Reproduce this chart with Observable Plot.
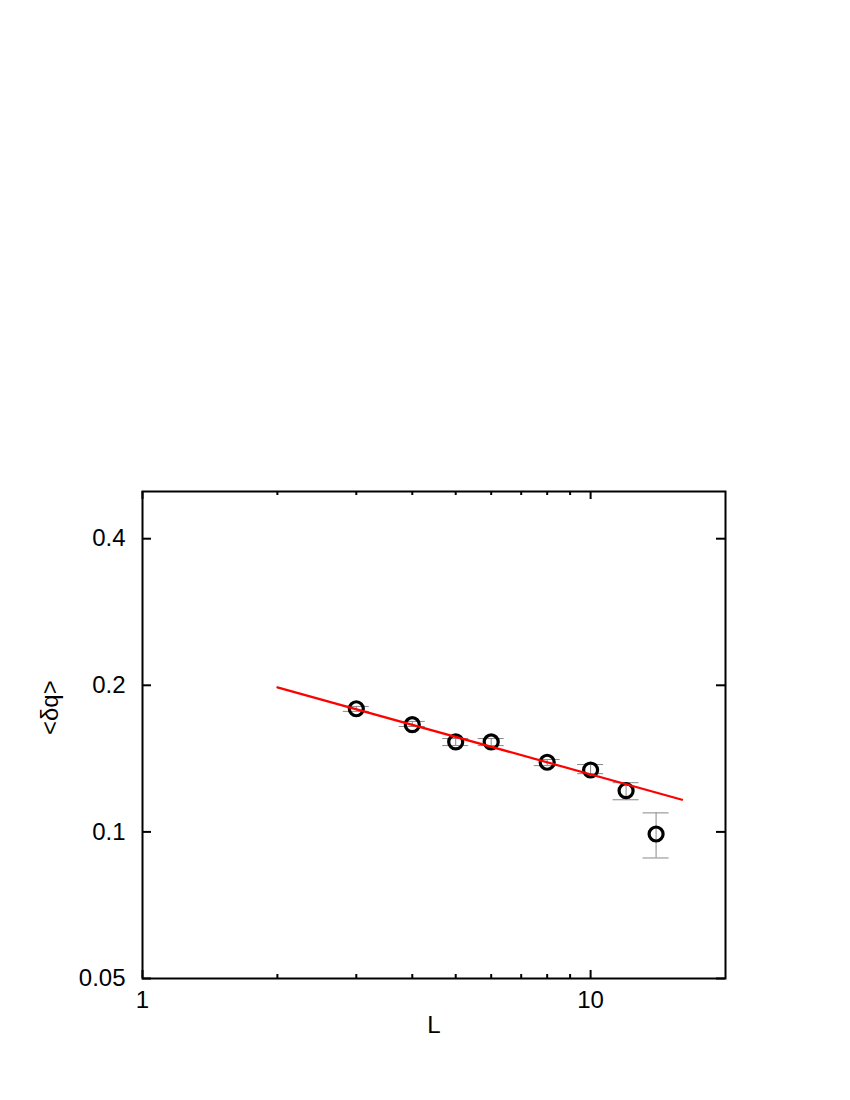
<!DOCTYPE html>
<html>
<head>
<meta charset="utf-8">
<script src="https://cdn.jsdelivr.net/npm/d3@7"></script>
<script src="https://cdn.jsdelivr.net/npm/@observablehq/plot@0.6"></script>
<style>
  html, body { margin: 0; padding: 0; background: #fff; }
</style>
</head>
<body>
<div id="chart"></div>
<script>
// Data points: system size L and mean <δq> with error bounds
const L = [3, 4, 5, 6, 8, 10, 12, 14];
const dq = [0.179, 0.166, 0.153, 0.153, 0.139, 0.134, 0.1215, 0.099];
const dqLow = [0.1768, 0.1646, 0.1504, 0.1504, 0.1368, 0.1317, 0.1164, 0.0884];
const dqHigh = [0.181, 0.1686, 0.1555, 0.1555, 0.1408, 0.1375, 0.1262, 0.1094];

// Fit line endpoints (power law)
const fitL = [2, 16];
const fitQ = [0.198, 0.1164];

// Axis ticks
const xMajorTicks = [1, 10];
const xMinorTicks = [2, 3, 4, 5, 6, 7, 8, 9];
const yTicks = [0.05, 0.1, 0.2, 0.4];
const xDomain = [1, 20];
const yDomain = [0.05, 0.5];

const points = L.map((l, i) => ({L: l, q: dq[i], lo: dqLow[i], hi: dqHigh[i]}));
const fit = fitL.map((l, i) => ({L: l, q: fitQ[i]}));

const font = "'Liberation Sans', Arial, Helvetica, sans-serif";
const fs = 24;

const chart = Plot.plot({
  width: 850,
  height: 1100,
  marginLeft: 142,
  marginRight: 125,
  marginTop: 491,
  marginBottom: 122,
  style: {fontFamily: font, fontSize: fs + "px", color: "#000", background: "#fff"},
  x: {type: "log", domain: xDomain},
  y: {type: "log", domain: yDomain},
  marks: [
    // tick labels
    Plot.axisX({ticks: xMajorTicks, tickSize: 0, tickPadding: 12, tickFormat: d => String(d), label: null, fontSize: fs}),
    Plot.axisY({ticks: yTicks, tickSize: 0, tickPadding: 17, tickFormat: d => String(d), label: null, fontSize: fs}),
    // inward ticks: bottom and top, major
    Plot.ruleX(xMajorTicks, {x: d => d, y1: yDomain[0], y2: yDomain[0], insetBottom: 8, stroke: "#000", strokeWidth: 2}),
    Plot.ruleX(xMajorTicks, {x: d => d, y1: yDomain[1], y2: yDomain[1], insetTop: 8, stroke: "#000", strokeWidth: 2}),
    // minor
    Plot.ruleX(xMinorTicks, {x: d => d, y1: yDomain[0], y2: yDomain[0], insetBottom: 4, stroke: "#000", strokeWidth: 2}),
    Plot.ruleX(xMinorTicks, {x: d => d, y1: yDomain[1], y2: yDomain[1], insetTop: 4, stroke: "#000", strokeWidth: 2}),
    // y ticks left and right
    Plot.ruleY(yTicks, {y: d => d, x1: xDomain[0], x2: xDomain[0], insetRight: -9, stroke: "#000", strokeWidth: 2}),
    Plot.ruleY(yTicks, {y: d => d, x1: xDomain[1], x2: xDomain[1], insetLeft: -9, stroke: "#000", strokeWidth: 2}),
    // error bars
    Plot.ruleX(points, {x: "L", y1: "lo", y2: "hi", stroke: "#888", strokeWidth: 1}),
    Plot.ruleY(points, {y: "lo", x1: "L", x2: "L", insetLeft: -13, insetRight: -13, stroke: "#888", strokeWidth: 1}),
    Plot.ruleY(points, {y: "hi", x1: "L", x2: "L", insetLeft: -13, insetRight: -13, stroke: "#888", strokeWidth: 1}),
    // data points
    Plot.dot(points, {x: "L", y: "q", r: 7, stroke: "#000", strokeWidth: 3.2, fill: "none"}),
    // fit line
    Plot.line(fit, {x: "L", y: "q", stroke: "#ff0000", strokeWidth: 2.2}),
    // frame
    Plot.frame({stroke: "#000", strokeWidth: 2}),
    // axis titles
    Plot.text(["L"], {frameAnchor: "bottom", dy: 54, text: d => d, fontSize: fs}),
    Plot.text(["<δq>"], {frameAnchor: "left", dx: -92, rotate: -90, text: d => d, fontSize: fs})
  ]
});

document.getElementById("chart").appendChild(chart);
</script>
</body>
</html>
